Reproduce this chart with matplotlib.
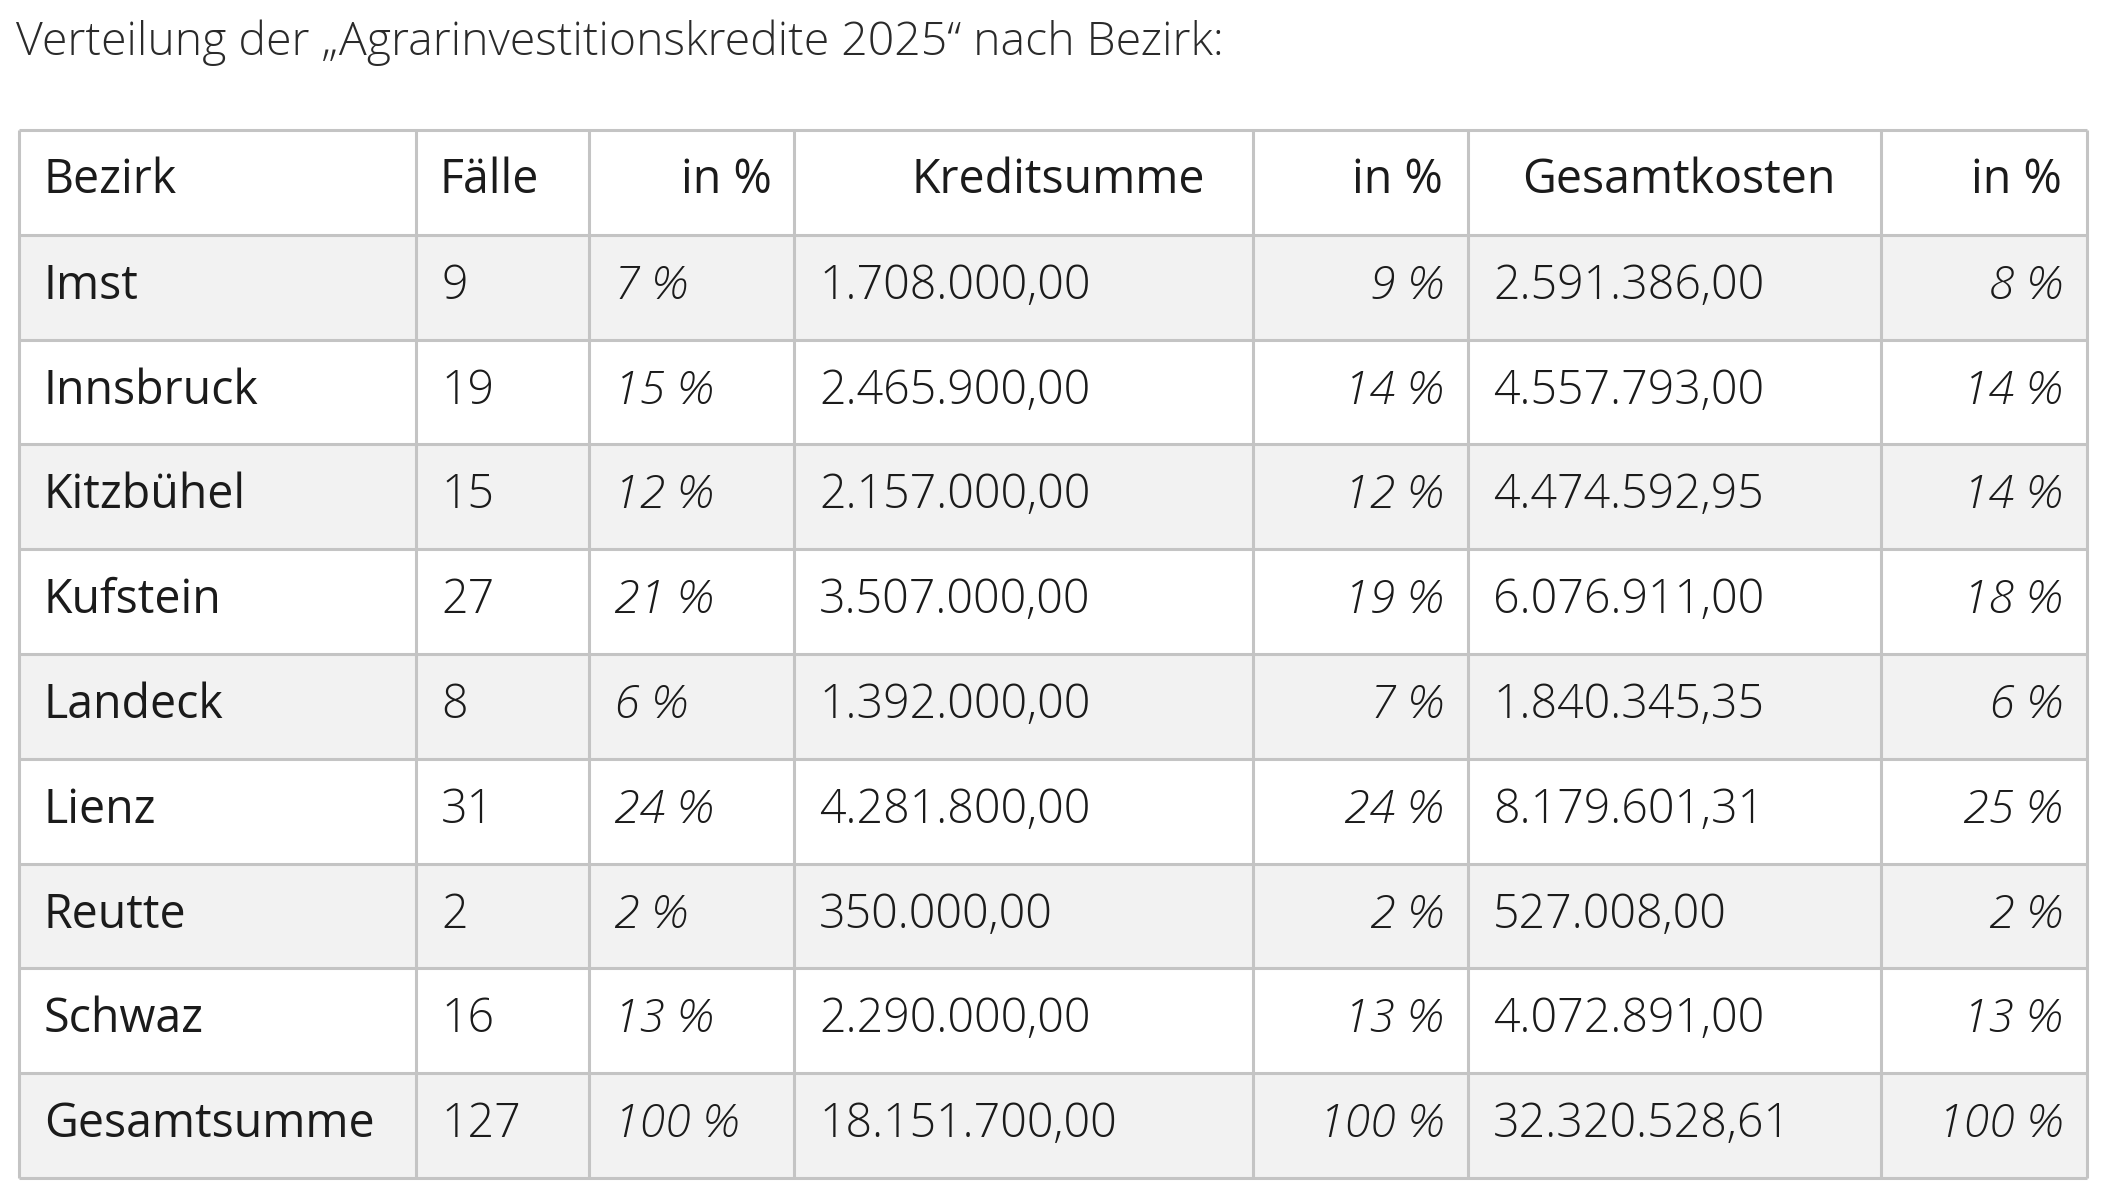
import matplotlib
matplotlib.use("Agg")
import matplotlib.pyplot as plt
from matplotlib.patches import Rectangle

# table content
title = "Verteilung der \u201eAgrarinvestitionskredite 2025\u201c nach Bezirk:"
headers = ["Bezirk", "Fälle", "in %", "Kreditsumme", "in %", "Gesamtkosten", "in %"]
districts = ["Imst", "Innsbruck", "Kitzbühel", "Kufstein", "Landeck", "Lienz",
             "Reutte", "Schwaz", "Gesamtsumme"]
cases = [9, 19, 15, 27, 8, 31, 2, 16, 127]
cases_pct = [7, 15, 12, 21, 6, 24, 2, 13, 100]
credit = [1708000.00, 2465900.00, 2157000.00, 3507000.00, 1392000.00,
          4281800.00, 350000.00, 2290000.00, 18151700.00]
credit_pct = [9, 14, 12, 19, 7, 24, 2, 13, 100]
costs = [2591386.00, 4557793.00, 4474592.95, 6076911.00, 1840345.35,
         8179601.31, 527008.00, 4072891.00, 32320528.61]
costs_pct = [8, 14, 14, 18, 6, 25, 2, 13, 100]


def de_num(v):
    s = f"{v:,.2f}"
    return s.replace(",", "X").replace(".", ",").replace("X", ".")


def pct(p):
    return f"{p} %"


FONT = "Open Sans"
FS = 33.5
W, H = 2104, 1204
col_edges = [19, 416, 589, 794, 1253, 1468, 1881, 2087]
top, bottom = 130, 1178
n_rows = len(districts) + 1
row_h = (bottom - top) / n_rows
pad = 25
grid_col = "#c4c4c4"
stripe = "#f2f2f2"
ink = "#1b1b1b"

fig = plt.figure(figsize=(W / 100, H / 100), dpi=100)
ax = fig.add_axes([0, 0, 1, 1])
ax.set_xlim(0, W)
ax.set_ylim(H, 0)
ax.axis("off")

ax.text(16, 55, title, fontsize=33.4, family=FONT, weight="light",
        color="#2a2a2a", ha="left", va="baseline")

# striped rows
for i in range(len(districts)):
    if i % 2 == 0:
        y0 = top + (i + 1) * row_h
        ax.add_patch(Rectangle((col_edges[0], y0), col_edges[-1] - col_edges[0],
                               row_h, facecolor=stripe, edgecolor="none", zorder=0))

# grid
for k in range(n_rows + 1):
    ax.hlines(top + k * row_h, col_edges[0], col_edges[-1], color=grid_col,
              lw=2.2, zorder=2)
ax.vlines(col_edges, top, bottom, color=grid_col, lw=2.2, zorder=2)

# header
base_off = 0.60
hy = top + row_h * base_off
head_pos = [("left", col_edges[0] + pad), ("left", col_edges[1] + 23),
            ("right", col_edges[3] - 22), ("right", 1205),
            ("right", col_edges[5] - pad), ("center", 1679),
            ("right", col_edges[7] - pad)]
for text, (ha, x) in zip(headers, head_pos):
    ax.text(x, hy, text, fontsize=FS, family=FONT, weight="normal",
            color=ink, ha=ha, va="baseline")

# body
for i in range(len(districts)):
    y = top + (i + 1) * row_h + row_h * 0.61
    cells = [
        (districts[i], "left", col_edges[0] + pad, "normal", "normal"),
        (str(cases[i]), "left", col_edges[1] + pad, "light", "normal"),
        (pct(cases_pct[i]), "left", col_edges[2] + pad, "light", "italic"),
        (de_num(credit[i]), "left", col_edges[3] + pad, "light", "normal"),
        (pct(credit_pct[i]), "right", col_edges[5] - pad, "light", "italic"),
        (de_num(costs[i]), "left", col_edges[5] + pad, "light", "normal"),
        (pct(costs_pct[i]), "right", col_edges[7] - pad, "light", "italic"),
    ]
    for text, ha, x, wt, st in cells:
        ax.text(x, y, text, fontsize=FS, family=FONT, weight=wt, style=st,
                color=ink, ha=ha, va="baseline")

fig.savefig("out.png", dpi=100, facecolor="white")
